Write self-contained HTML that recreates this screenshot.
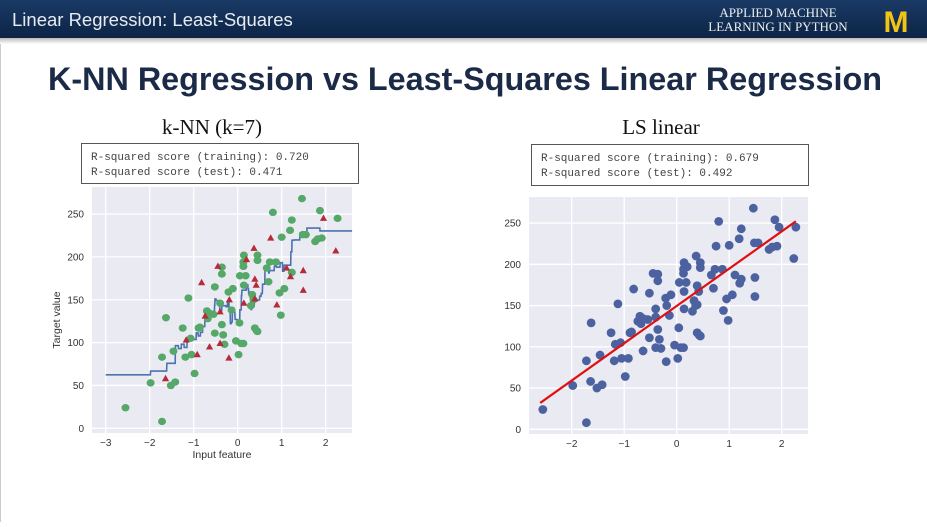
<!DOCTYPE html>
<html><head><meta charset="utf-8"><style>
body{margin:0;width:927px;height:522px;overflow:hidden;background:#fff;font-family:"Liberation Sans",sans-serif}
</style></head><body>
<svg id="s" width="927" height="522" xmlns="http://www.w3.org/2000/svg">
<defs><linearGradient id="hg" x1="0" y1="0" x2="0" y2="1"><stop offset="0" stop-color="#1a3a66"/><stop offset="1" stop-color="#0c2445"/></linearGradient>
<linearGradient id="sh" x1="0" y1="0" x2="0" y2="1"><stop offset="0" stop-color="#bbb"/><stop offset="1" stop-color="#fff"/></linearGradient></defs>
<rect x="0" y="38" width="927" height="6" fill="url(#sh)"/>
<rect x="0" y="0" width="927" height="38" fill="url(#hg)"/>
<text x="12" y="26" font-size="18.5" fill="#e8ecf2" font-family="Liberation Sans, sans-serif">Linear Regression: Least-Squares</text>
<text x="778" y="17" font-size="13" fill="#eee" text-anchor="middle" font-family="Liberation Serif, serif">APPLIED MACHINE</text>
<text x="778" y="31" font-size="13" fill="#eee" text-anchor="middle" font-family="Liberation Serif, serif">LEARNING IN PYTHON</text>
<text x="896" y="32" font-size="30" font-weight="bold" fill="#f2c513" text-anchor="middle" font-family="Liberation Sans, sans-serif">M</text>
<rect x="0" y="44" width="1" height="478" fill="#ccc"/>
<text x="465" y="90" font-size="32" font-weight="bold" fill="#1b2a47" text-anchor="middle" textLength="834" lengthAdjust="spacingAndGlyphs">K-NN Regression vs Least-Squares Linear Regression</text>
<text x="212" y="134" font-size="21" fill="#111" text-anchor="middle" font-family="Liberation Serif, serif">k-NN (k=7)</text>
<text x="661" y="134" font-size="21" fill="#111" text-anchor="middle" font-family="Liberation Serif, serif">LS linear</text>
<g>
<rect x="81.5" y="143.5" width="277" height="40" fill="#fff" stroke="#555"/>
<text x="91" y="160" font-size="11" fill="#444" font-family="Liberation Mono, monospace">R-squared score (training): 0.720</text>
<text x="91" y="175" font-size="11" fill="#444" font-family="Liberation Mono, monospace">R-squared score (test): 0.471</text></g>
<g>
<rect x="531.5" y="144.5" width="277" height="41" fill="#fff" stroke="#555"/>
<text x="541" y="161" font-size="11" fill="#444" font-family="Liberation Mono, monospace">R-squared score (training): 0.679</text>
<text x="541" y="176" font-size="11" fill="#444" font-family="Liberation Mono, monospace">R-squared score (test): 0.492</text></g>
<g id="L"></g>
<g id="R"></g>
</svg>
<script>
const trainX=[-2.55,-1.72,-1.98,-1.72,-1.63,-1.52,-1.42,-1.46,-1.25,-1.19,-1.12,-1.07,-1.05,-0.98,-0.89,-0.86,-0.70,-0.68,-0.63,-0.55,-0.52,-0.52,-0.40,-0.36,-0.36,-0.36,-0.33,-0.30,-0.21,-0.14,-0.11,-0.04,0.02,0.04,0.05,0.08,0.13,0.14,0.13,0.13,0.14,0.18,0.30,0.33,0.36,0.39,0.43,0.45,0.45,0.45,0.66,0.70,0.73,0.80,0.87,0.95,0.98,1.00,1.06,1.19,1.23,1.23,1.46,1.48,1.55,1.76,1.82,1.91,1.87,2.27];
const trainY=[24,8,53,83,129,50,54,90,117,83,152,105,86,64,117,118,137,128,134,133,111,165,146,188,180,121,109,98,159,138,163,102,86,123,178,99,99,202,194,189,167,178,143,156,150,117,114,113,202,196,187,171,194,252,194,158,132,223,163,231,182,243,268,226,226,218,221,222,254,245];
const testX=[-1.64,-1.17,-0.92,-0.82,-0.74,-0.64,-0.45,-0.40,-0.40,-0.20,-0.19,0.14,0.20,0.37,0.39,0.39,0.42,0.75,0.89,1.11,1.20,1.49,1.49,1.95,2.23];
const testY=[58,103,86,170,131,95,189,136,99,82,150,146,197,210,174,151,167,222,144,187,177,184,161,245,207];
const xTicks=[-3,-2,-1,0,1,2];
const xTicksR=[-2,-1,0,1,2];
const yTicks=[0,50,100,150,200,250];
const lsCoef=[45.2];
const lsIntercept=[149.5];
const lsRange=[-2.6,2.27];
const K=7;
const NS='http://www.w3.org/2000/svg';
function mk(p,t,a){const e=document.createElementNS(NS,t);for(const k in a)e.setAttribute(k,a[k]);p.appendChild(e);return e;}
function axes(g,box,sx,sy,xt,yt,xlabel,ylabel){
  const r=mk(g,'rect',{x:box[0],y:box[1],width:box[2]-box[0],height:box[3]-box[1],fill:'#eaeaf2'});
  
  xt.forEach(v=>{const l=mk(g,'line',{x1:sx(v),x2:sx(v),y1:box[1],y2:box[3],stroke:'#fff','stroke-width':1.3});
    
    const t=mk(g,'text',{x:sx(v),y:box[3]+13,'font-size':10,fill:'#333','text-anchor':'middle'});t.textContent=v<0?'\u2212'+(-v):v;
    });
  yt.forEach(v=>{const l=mk(g,'line',{x1:box[0],x2:box[2],y1:sy(v),y2:sy(v),stroke:'#fff','stroke-width':1.3});
    
    const t=mk(g,'text',{x:box[0]-8,y:sy(v)+3.5,'font-size':10,fill:'#333','text-anchor':'end'});t.textContent=v;
    });
  if(xlabel){const t=mk(g,'text',{x:(box[0]+box[2])/2,y:box[3]+25,'font-size':10.5,fill:'#333','text-anchor':'middle'});t.textContent=xlabel;
    }
  if(ylabel){const cx=box[0]-32,cy=(box[1]+box[3])/2+10;const t=mk(g,'text',{x:cx,y:cy,'font-size':10.5,fill:'#333','text-anchor':'middle',transform:`rotate(-90 ${cx} ${cy})`});t.textContent=ylabel;
    }
}
const L=document.getElementById('L');
const lb=[92,187,352,433];
const lsx=v=>237.7+v*44, lsy=v=>428.3-v*0.857;
axes(L,lb,lsx,lsy,xTicks,yTicks,'Input feature','Target value');
function knn(x){const d=trainX.map((v,i)=>[Math.abs(v-x),trainY[i]]).sort((a,b)=>a[0]-b[0]);let s=0;for(let i=0;i<K;i++)s+=d[i][1];return s/K;}
let pts=[];for(let x=-3;x<=2.6;x+=0.005)pts.push(lsx(x).toFixed(1)+','+lsy(knn(x)).toFixed(1));
const kl=mk(L,'polyline',{points:pts.join(' '),fill:'none',stroke:'#4c72b0','stroke-width':1.6});

trainX.forEach((v,i)=>{const c=mk(L,'ellipse',{cx:lsx(v),cy:lsy(trainY[i]),rx:4,ry:3.7,fill:'#55a868'});
  });
testX.forEach((v,i)=>{const x=lsx(v),y=lsy(testY[i]);const p=mk(L,'polygon',{points:`${x},${y-3.8} ${x-3.6},${y+2.6} ${x+3.6},${y+2.6}`,fill:'#b52b3a'});
  });
const R=document.getElementById('R');
const rb=[529,197,808,434];
const rsx=v=>676.7+v*52.5, rsy=v=>429.3-v*0.825;
axes(R,rb,rsx,rsy,xTicksR,yTicks,null,null);
trainX.concat(testX).forEach((v,i)=>{const y=i<trainX.length?trainY[i]:testY[i-trainX.length];
  const c=mk(R,'circle',{cx:rsx(v),cy:rsy(y),r:4.4,fill:'#4c62a0'});
  });
const f=x=>lsIntercept[0]+lsCoef[0]*x;
const ln=mk(R,'line',{x1:rsx(lsRange[0]),y1:rsy(f(lsRange[0])),x2:rsx(lsRange[1]),y2:rsy(f(lsRange[1])),stroke:'#e01010','stroke-width':2.2});

</script>
</body></html>
